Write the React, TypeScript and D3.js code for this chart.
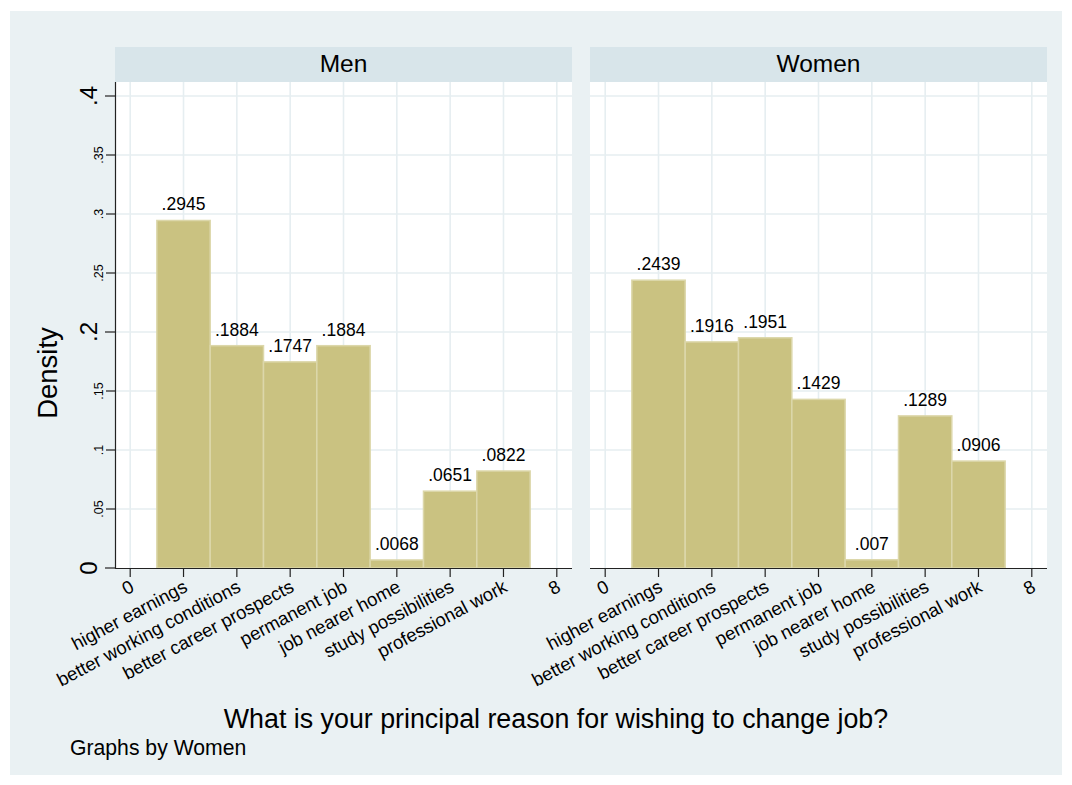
import React from "react";
import * as d3 from "d3";

const categories = [
  "higher earnings",
  "better working conditions",
  "better career prospects",
  "permanent job",
  "job nearer home",
  "study possibilities",
  "professional work",
];
const menValues = [0.2945, 0.1884, 0.1747, 0.1884, 0.0068, 0.0651, 0.0822];
const womenValues = [0.2439, 0.1916, 0.1951, 0.1429, 0.007, 0.1289, 0.0906];
const panelTitles = ["Men", "Women"];
const majorYTicks = [0, 0.2, 0.4];
const minorYTicks = [0.05, 0.1, 0.15, 0.25, 0.3, 0.35];
const gridYTicks = [0.05, 0.1, 0.15, 0.2, 0.25, 0.3, 0.35, 0.4];
const xTickValues = [0, 1, 2, 3, 4, 5, 6, 7, 8];

const W = 1072;
const H = 785;
const BG = "#eaf1f3";
const STRIP = "#d8e5ea";
const GRID = "#e6eef1";
const BAR = "#cac281";
const BAR_EDGE = "#dcd7aa";
const FONT = "Arial, 'Liberation Sans', Helvetica, sans-serif";

const plotTop = 82;
const plotBottom = 568;
const panels = [
  { x0: 115, x1: 572, values: menValues, title: panelTitles[0], yAxis: true },
  { x0: 590, x1: 1047, values: womenValues, title: panelTitles[1], yAxis: false },
];

const y = d3.scaleLinear().domain([0, 0.4]).range([plotBottom, 96]);

function fmt(v: number): string {
  return String(v).replace(/^0\./, ".").replace(/^-0\./, "-.");
}

function xLabel(i: number): string {
  if (i >= 1 && i <= categories.length) return categories[i - 1];
  return String(i);
}

export default function App() {
  return (
    <svg
      width={W}
      height={H}
      style={{ position: "absolute", left: 0, top: 0 }}
      fontFamily={FONT}
    >
      <rect x={0} y={0} width={W} height={H} fill="#ffffff" />
      <rect x={10} y={11} width={1052} height={764} fill={BG} />
      {panels.map((p, pi) => {
        const x = d3.scaleLinear().domain([-0.285, 8.285]).range([p.x0, p.x1]);
        return (
          <g key={pi}>
            <rect x={p.x0} y={47} width={p.x1 - p.x0} height={35} fill={STRIP} />
            <text x={(p.x0 + p.x1) / 2} y={72} textAnchor="middle" fontSize={24.5} fill="#000">
              {p.title}
            </text>
            <rect x={p.x0} y={plotTop} width={p.x1 - p.x0} height={plotBottom - plotTop} fill="#fff" />
            {gridYTicks.map((t) => (
              <line key={"gy" + t} x1={p.x0} x2={p.x1} y1={y(t)} y2={y(t)} stroke={GRID} strokeWidth={1.6} />
            ))}
            {xTickValues.map((t) => (
              <line key={"gx" + t} x1={x(t)} x2={x(t)} y1={plotTop} y2={plotBottom} stroke={GRID} strokeWidth={1.6} />
            ))}
            {p.values.map((v, i) => (
              <rect
                key={"b" + i}
                x={x(i + 0.5)}
                y={y(v)}
                width={x(i + 1.5) - x(i + 0.5)}
                height={y(0) - y(v)}
                fill={BAR}
                stroke={BAR_EDGE}
                strokeWidth={1.5}
              />
            ))}
            {p.values.map((v, i) => (
              <text key={"l" + i} x={x(i + 1)} y={y(v) - 10} textAnchor="middle" fontSize={17.5} fill="#000">
                {fmt(v)}
              </text>
            ))}
            <line x1={p.x0} x2={p.x1} y1={plotBottom + 0.5} y2={plotBottom + 0.5} stroke="#222" strokeWidth={1.2} />
            {xTickValues.map((t) => (
              <g key={"xt" + t}>
                <line x1={x(t)} x2={x(t)} y1={plotBottom} y2={plotBottom + 9} stroke="#222" strokeWidth={1.2} />
                <text
                  transform={`translate(${x(t) + 2},${plotBottom + 17}) rotate(-28)`}
                  textAnchor="end"
                  dy="0.35em"
                  fontSize={18.5}
                  fill="#000"
                >
                  {xLabel(t)}
                </text>
              </g>
            ))}
            {p.yAxis && (
              <g>
                <line x1={p.x0 + 0.5} x2={p.x0 + 0.5} y1={plotTop} y2={plotBottom + 1} stroke="#222" strokeWidth={1.2} />
                {majorYTicks.map((t) => (
                  <g key={"my" + t}>
                    <line x1={p.x0 - 10} x2={p.x0} y1={y(t)} y2={y(t)} stroke="#222" strokeWidth={1.2} />
                    <text
                      transform={`translate(${p.x0 - 18},${y(t)}) rotate(-90)`}
                      textAnchor="middle"
                      fontSize={24}
                      fill="#000"
                    >
                      {fmt(t)}
                    </text>
                  </g>
                ))}
                {minorYTicks.map((t) => (
                  <g key={"ny" + t}>
                    <line x1={p.x0 - 9} x2={p.x0} y1={y(t)} y2={y(t)} stroke="#222" strokeWidth={1.2} />
                    <text
                      transform={`translate(${p.x0 - 12},${y(t)}) rotate(-90)`}
                      textAnchor="middle"
                      fontSize={12.5}
                      fill="#000"
                    >
                      {fmt(t)}
                    </text>
                  </g>
                ))}
              </g>
            )}
          </g>
        );
      })}
      <text transform="translate(57,373) rotate(-90)" textAnchor="middle" fontSize={27.5} fill="#000">
        Density
      </text>
      <text x={556} y={728} textAnchor="middle" fontSize={26.8} fill="#000">
        What is your principal reason for wishing to change job?
      </text>
      <text x={70} y={755} fontSize={21.2} fill="#000">
        Graphs by Women
      </text>
    </svg>
  );
}
